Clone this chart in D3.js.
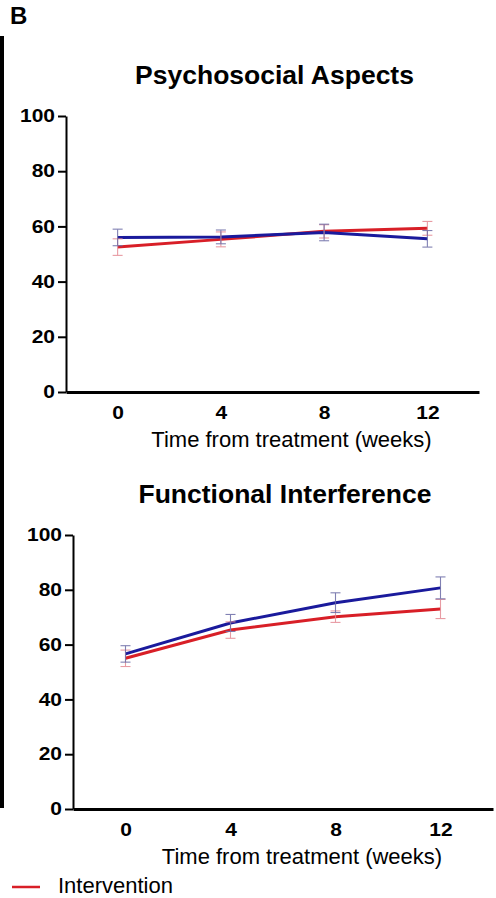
<!DOCTYPE html>
<html>
<head>
<meta charset="utf-8">
<script src="https://cdn.jsdelivr.net/npm/d3@7"></script>
<style>
  body { margin: 0; background: #fff; }
  svg { display: block; font-family: "Liberation Sans", Arial, sans-serif; }
</style>
</head>
<body>
<svg id="chart" width="496" height="898"></svg>
<script>
// values (mean and error per time point)
const weeks = [0, 4, 8, 12];
const yTicks = [0, 20, 40, 60, 80, 100];
const panelTitles = ['Psychosocial Aspects', 'Functional Interference'];
const xTitle = 'Time from treatment (weeks)';
const legendLabel = 'Intervention';

const psyIntervention = [52.5, 55.3, 58.2, 59.3];
const psyInterventionErr = [3.0, 2.7, 2.4, 2.5];
const psyControl = [56.0, 56.2, 57.8, 55.5];
const psyControlErr = [3.0, 2.5, 3.0, 3.0];

const funIntervention = [55.0, 65.3, 70.2, 73.0];
const funInterventionErr = [3.0, 3.0, 2.1, 3.5];
const funControl = [56.6, 67.9, 75.3, 80.7];
const funControlErr = [3.0, 3.1, 3.6, 4.0];

const red = '#d81f27';
const blue = '#1a1a9c';
const redBar = '#e58a94';
const blueBar = '#6b6ba6';
const textStretch = 1.2;  // tick labels are drawn wider than normal in the source

const svg = d3.select('#chart');

// panel letter and the black bar down the left edge
svg.append('text')
    .attr('x', 10).attr('y', 24)
    .attr('font-size', 24).attr('font-weight', 'bold')
    .text('B');

svg.append('line')
    .attr('x1', 2).attr('x2', 2)
    .attr('y1', 36).attr('y2', 808)
    .attr('stroke', '#000').attr('stroke-width', 4);

function drawPanel(box, title, series) {
    const x = d3.scaleLinear().domain([-2, 14]).range([box.left, box.right]);
    const y = d3.scaleLinear().domain([0, 100]).range([box.bottom, box.top]);
    const mid = (box.left + box.right) / 2;

    svg.append('text')
        .attr('x', mid + 2).attr('y', box.top - 32)
        .attr('text-anchor', 'middle')
        .attr('font-size', 26.5).attr('font-weight', 'bold')
        .text(title);

    // y axis
    const gy = svg.append('g')
        .attr('transform', `translate(${box.left},0)`)
        .call(d3.axisLeft(y).tickValues(yTicks).tickSize(8).tickSizeOuter(0));
    gy.select('.domain').attr('stroke-width', 2);
    gy.selectAll('.tick line').attr('stroke-width', 2);
    gy.selectAll('.tick text')
        .attr('font-size', 17.5).attr('font-weight', 'bold')
        .attr('font-family', 'Liberation Sans, Arial, sans-serif')
        .attr('fill', '#000')
        .attr('x', -11 / textStretch)
        .attr('transform', `scale(${textStretch},1)`);

    // x axis, labels only
    const gx = svg.append('g')
        .attr('transform', `translate(0,${box.bottom})`)
        .call(d3.axisBottom(x).tickValues(weeks).tickSize(0).tickSizeOuter(0));
    gx.select('.domain').attr('stroke-width', 3);
    gx.selectAll('.tick text')
        .attr('font-size', 17.5).attr('font-weight', 'bold')
        .attr('font-family', 'Liberation Sans, Arial, sans-serif')
        .attr('fill', '#000')
        .attr('y', 27).attr('dy', null)
        .attr('transform', `scale(${textStretch},1)`);

    svg.append('text')
        .attr('x', mid + 19).attr('y', box.bottom + 55)
        .attr('text-anchor', 'middle')
        .attr('font-size', 22)
        .text(xTitle);

    const line = d3.line()
        .x((d, i) => x(weeks[i]))
        .y(d => y(d));

    series.forEach(s => {
        svg.append('path')
            .datum(s.values)
            .attr('fill', 'none')
            .attr('stroke', s.color)
            .attr('stroke-width', 3)
            .attr('d', line);
    });

    // error bars on top, thin and faded
    series.forEach(s => {
        const g = svg.append('g')
            .attr('stroke', s.barColor)
            .attr('stroke-width', 1.1)
            .attr('opacity', 0.85);
        s.values.forEach((v, i) => {
            const cx = x(weeks[i]);
            const lo = y(v - s.errs[i]), hi = y(v + s.errs[i]);
            g.append('line').attr('x1', cx).attr('x2', cx).attr('y1', lo).attr('y2', hi);
            g.append('line').attr('x1', cx - 5).attr('x2', cx + 5).attr('y1', lo).attr('y2', lo);
            g.append('line').attr('x1', cx - 5).attr('x2', cx + 5).attr('y1', hi).attr('y2', hi);
        });
    });
}

drawPanel({ left: 66, right: 479, top: 116, bottom: 392 }, panelTitles[0], [
    { values: psyIntervention, errs: psyInterventionErr, color: red, barColor: redBar },
    { values: psyControl, errs: psyControlErr, color: blue, barColor: blueBar }
]);

drawPanel({ left: 73, right: 493, top: 535, bottom: 809 }, panelTitles[1], [
    { values: funIntervention, errs: funInterventionErr, color: red, barColor: redBar },
    { values: funControl, errs: funControlErr, color: blue, barColor: blueBar }
]);

// legend (only the first entry is inside the frame)
svg.append('line')
    .attr('x1', 12).attr('x2', 40)
    .attr('y1', 887).attr('y2', 887)
    .attr('stroke', red).attr('stroke-width', 2.5);

svg.append('text')
    .attr('x', 58).attr('y', 893)
    .attr('font-size', 22)
    .text(legendLabel);
</script>
</body>
</html>
